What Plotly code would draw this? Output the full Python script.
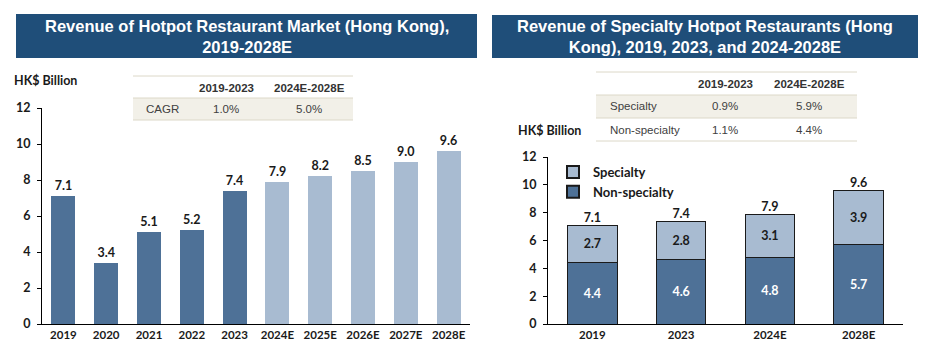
import plotly.graph_objects as go

W, H = 927, 352

# ---------------- data ----------------
years_all = ["2019", "2020", "2021", "2022", "2023", "2024E", "2025E", "2026E", "2027E", "2028E"]
revenue_all = [7.1, 3.4, 5.1, 5.2, 7.4, 7.9, 8.2, 8.5, 9.0, 9.6]

years_sel = ["2019", "2023", "2024E", "2028E"]
non_specialty = [4.4, 4.6, 4.8, 5.7]
specialty = [2.7, 2.8, 3.1, 3.9]
totals_sel = [7.1, 7.4, 7.9, 9.6]

left_title = "Revenue of Hotpot Restaurant Market (Hong Kong),<br>2019-2028E"
right_title = "Revenue of Specialty Hotpot Restaurants (Hong<br>Kong), 2019, 2023, and 2024-2028E"
unit_label = "HK$ Billion"

table_cols = ["2019-2023", "2024E-2028E"]
left_table_rows = ["CAGR"]
left_table_vals = [["1.0%", "5.0%"]]
right_table_rows = ["Specialty", "Non-specialty"]
right_table_vals = [["0.9%", "5.9%"], ["1.1%", "4.4%"]]

yticks = [0, 2, 4, 6, 8, 10, 12]

# ---------------- styles ----------------
DARK = "#4e7197"
LIGHT = "#a8bbd1"
TITLE_BG = "#1f4e79"
BEIGE = "#f2f0e8"
LINE = "#dcd8c8"
TXT = "#1a1a1a"
TFONT = "Liberation Sans, Arial, sans-serif"
BFONT = "Lato, Carlito, Calibri, sans-serif"


def px(x):
    return x / W


def py(y):
    return 1 - y / H


fig = go.Figure()

# left chart bars
left_colors = [LIGHT if y.endswith("E") else DARK for y in years_all]
fig.add_trace(go.Bar(
    x=years_all, y=revenue_all, marker=dict(color=left_colors, line=dict(width=0)),
    text=[f"{v:.1f}" for v in revenue_all], textposition="outside",
    textfont=dict(family=BFONT, size=12.5, color=TXT, weight="bold"),
    cliponaxis=False, showlegend=False, xaxis="x", yaxis="y", hoverinfo="skip",
))

# right chart stacked bars
fig.add_trace(go.Bar(
    x=years_sel, y=non_specialty, name="Non-specialty",
    marker=dict(color=DARK, line=dict(color="#1a1a1a", width=1)),
    text=[f"{v:.1f}" for v in non_specialty], textposition="inside", insidetextanchor="middle",
    textfont=dict(family=BFONT, size=12.5, color="white", weight="bold"), constraintext="none",
    xaxis="x2", yaxis="y2", hoverinfo="skip",
))
fig.add_trace(go.Bar(
    x=years_sel, y=specialty, name="Specialty",
    marker=dict(color=LIGHT, line=dict(color="#1a1a1a", width=1)),
    text=[f"{v:.1f}" for v in specialty], textposition="inside", insidetextanchor="middle",
    textfont=dict(family=BFONT, size=12.5, color=TXT, weight="bold"), constraintext="none",
    xaxis="x2", yaxis="y2", hoverinfo="skip",
))
fig.add_trace(go.Scatter(
    x=years_sel, y=totals_sel, mode="text", text=[f"{v:.1f}" for v in totals_sel],
    textposition="top center", textfont=dict(family=BFONT, size=12.5, color=TXT, weight="bold"),
    showlegend=False, xaxis="x2", yaxis="y2", hoverinfo="skip", cliponaxis=False,
))

axis_common = dict(showline=True, linecolor="#000000", linewidth=1, showgrid=False, zeroline=False,
                   automargin=False, fixedrange=True)
xfont = dict(family=BFONT, size=11.5, color=TXT, weight="bold")
yfont = dict(family=BFONT, size=12.5, color=TXT, weight="bold")

fig.update_layout(
    width=W, height=H, margin=dict(l=0, r=0, t=0, b=0, autoexpand=False),
    paper_bgcolor="white", plot_bgcolor="white",
    barmode="stack", bargap=0.44,
    xaxis=dict(domain=[px(42), px(470)], ticks="", tickfont=xfont, **axis_common),
    yaxis=dict(domain=[py(324), py(108)], range=[0, 12], tickvals=yticks, ticks="outside",
               ticklen=4, tickcolor="#000", tickfont=yfont, ticklabelstandoff=4, **axis_common),
    xaxis2=dict(domain=[px(548), px(903)], ticks="", anchor="y2", tickfont=xfont, **axis_common),
    yaxis2=dict(domain=[py(324), py(157)], range=[0, 12], tickvals=yticks, ticks="outside",
                ticklen=4, tickcolor="#000", anchor="x2", tickfont=yfont, ticklabelstandoff=4,
                **axis_common),
    legend=dict(x=px(553), y=py(157), xanchor="left", yanchor="top", traceorder="reversed",
                font=dict(family=BFONT, size=13, color=TXT, weight="bold"),
                bgcolor="rgba(0,0,0,0)", itemsizing="constant", tracegroupgap=2),
    font=dict(family=TFONT),
)

shapes = []
annotations = []

# title bars
for (x0, x1, y0, y1, txt) in [(16, 477, 14, 58, left_title), (492, 918, 15, 58, right_title)]:
    shapes.append(dict(type="rect", xref="paper", yref="paper", x0=px(x0), x1=px(x1), y0=py(y1), y1=py(y0),
                       fillcolor=TITLE_BG, line=dict(width=0), layer="below"))
    annotations.append(dict(xref="paper", yref="paper", x=px((x0 + x1) / 2), y=py((y0 + y1) / 2),
                            text=f"<b>{txt}</b>", showarrow=False, xanchor="center", yanchor="middle",
                            font=dict(family=TFONT, size=16.5, color="white")))

# unit labels
annotations.append(dict(xref="paper", yref="paper", x=px(12), y=py(80), text=f"<b>{unit_label}</b>",
                        showarrow=False, xanchor="left", yanchor="middle",
                        font=dict(family=BFONT, size=12.5, color=TXT)))
annotations.append(dict(xref="paper", yref="paper", x=px(516), y=py(130), text=f"<b>{unit_label}</b>",
                        showarrow=False, xanchor="left", yanchor="middle",
                        font=dict(family=BFONT, size=12.5, color=TXT)))


def draw_table(x0, x1, ytop, row_h, label_x, col_x, rows, vals):
    hdr_bottom = ytop + row_h
    shapes.append(dict(type="line", xref="paper", yref="paper", x0=px(x0), x1=px(x1), y0=py(ytop), y1=py(ytop),
                       line=dict(color=LINE, width=1)))
    for j, c in enumerate(table_cols):
        annotations.append(dict(xref="paper", yref="paper", x=px(col_x[j]), y=py(ytop + row_h / 2 + 1),
                                text=f"<b>{c}</b>", showarrow=False, xanchor="center", yanchor="middle",
                                font=dict(family=TFONT, size=11.5, color="#333333")))
    for i, r in enumerate(rows):
        r0 = hdr_bottom + i * row_h
        if i % 2 == 0:
            shapes.append(dict(type="rect", xref="paper", yref="paper", x0=px(x0), x1=px(x1),
                               y0=py(r0 + row_h), y1=py(r0), fillcolor=BEIGE, line=dict(width=0), layer="below"))
        shapes.append(dict(type="line", xref="paper", yref="paper", x0=px(x0), x1=px(x1), y0=py(r0), y1=py(r0),
                           line=dict(color=LINE, width=1)))
        annotations.append(dict(xref="paper", yref="paper", x=px(label_x), y=py(r0 + row_h / 2), text=r,
                                showarrow=False, xanchor="left", yanchor="middle",
                                font=dict(family=TFONT, size=11.5, color="#404040")))
        for j, v in enumerate(vals[i]):
            annotations.append(dict(xref="paper", yref="paper", x=px(col_x[j]), y=py(r0 + row_h / 2), text=v,
                                    showarrow=False, xanchor="center", yanchor="middle",
                                    font=dict(family=TFONT, size=11.5, color="#404040")))
    yb = hdr_bottom + len(rows) * row_h
    shapes.append(dict(type="line", xref="paper", yref="paper", x0=px(x0), x1=px(x1), y0=py(yb), y1=py(yb),
                       line=dict(color=LINE, width=1)))


draw_table(133, 353, 76, 22, 144, [226, 309], left_table_rows, left_table_vals)
draw_table(596, 857, 72, 23, 608, [725, 809], right_table_rows, right_table_vals)

fig.update_layout(shapes=shapes, annotations=annotations)
fig.write_html("out.html")
